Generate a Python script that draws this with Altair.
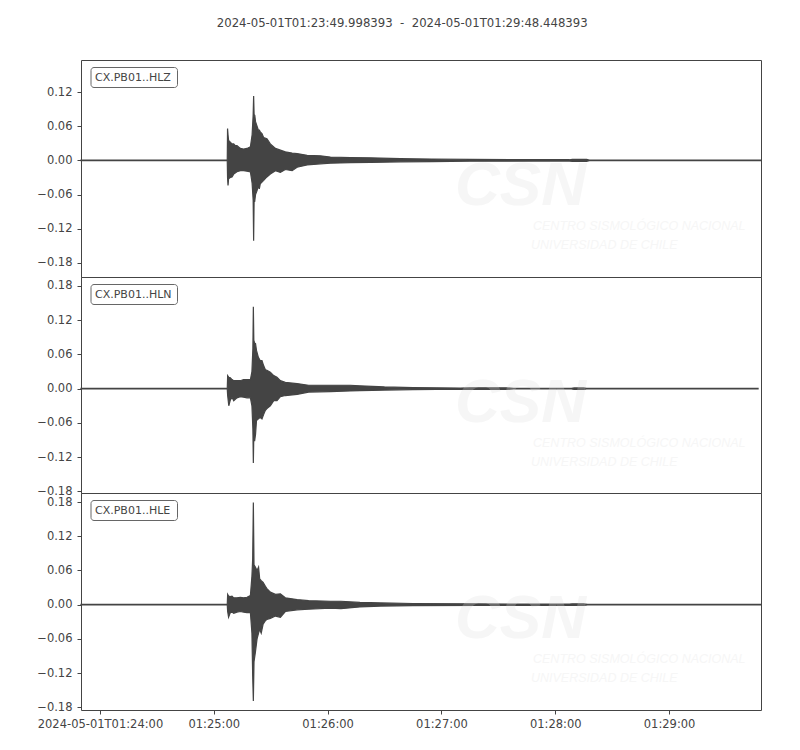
import altair as alt
import pandas as pd

# time axis: seconds relative to 2024-05-01T01:24:00
T_START = -10.0016
T_END = 348.4484
X_TICKS = [0, 60, 120, 180, 240, 300]
TITLE = "2024-05-01T01:23:49.998393\u00a0\u00a0-\u00a0\u00a02024-05-01T01:29:48.448393"

LABELS = ["CX.PB01..HLZ", "CX.PB01..HLN", "CX.PB01..HLE"]

# ---- HLZ envelope (time s, lower, upper) ----
HLZ_T = [T_START, 67.1, 67.25, 67.5, 67.8, 68.7, 69.6, 70.5, 71.3, 72.2, 74.0, 75.7, 77.5, 79.3,
         80.2, 80.75, 81.0, 81.25, 81.6, 82.0, 82.8, 83.5, 84.0, 84.5, 85.4, 86.3, 88.0, 89.8,
         92.5, 95.1, 97.7, 101.3, 103.9, 109.2, 116.2, 121.5, 132.0, 142.6, 158.4, 175.0, 195.0,
         230.0, 247.5, 249.0, 256.5, 258.0, T_END]
HLZ_LO = [-0.0004, -0.0004, -0.030, -0.044, -0.032, -0.030, -0.029, -0.024, -0.022, -0.020, -0.018,
          -0.018, -0.019, -0.020, -0.040, -0.070, -0.141, -0.070, -0.071, -0.060, -0.053, -0.045,
          -0.050, -0.041, -0.038, -0.035, -0.029, -0.024, -0.018, -0.021, -0.016, -0.018, -0.012,
          -0.008, -0.006, -0.005, -0.004, -0.0035, -0.0025, -0.002, -0.0015, -0.0012, -0.0012,
          -0.0016, -0.0016, -0.0004, -0.0004]
HLZ_HI = [0.0004, 0.0004, 0.056, 0.045, 0.035, 0.032, 0.029, 0.029, 0.026, 0.026, 0.021, 0.020,
          0.021, 0.024, 0.045, 0.080, 0.113, 0.080, 0.079, 0.068, 0.060, 0.053, 0.053, 0.050,
          0.047, 0.040, 0.038, 0.029, 0.021, 0.018, 0.015, 0.013, 0.012, 0.009, 0.008, 0.006,
          0.005, 0.0045, 0.003, 0.0025, 0.0018, 0.0012, 0.0012, 0.0018, 0.0018, 0.0004, 0.0004]

# ---- HLN envelope ----
HLN_T = [T_START, 67.1, 67.3, 67.9, 68.7, 69.6, 70.5, 72.2, 74.0, 75.7, 77.5, 79.3, 80.1, 80.6,
         80.85, 81.1, 81.5, 82.0, 82.5, 83.5, 84.5, 85.4, 86.3, 87.2, 88.0, 89.8, 91.6, 93.3,
         95.1, 97.7, 103.9, 110.0, 121.5, 132.0, 137.0, 150.0, 165.0, 190.0, 195.0, 214.0, 218.0,
         248.5, 250.0, 255.0, 256.5, 346.9]
HLN_LO = [-0.0004, -0.0004, -0.012, -0.030, -0.020, -0.015, -0.021, -0.016, -0.014, -0.015,
          -0.016, -0.016, -0.030, -0.070, -0.130, -0.080, -0.092, -0.080, -0.056, -0.053, -0.050,
          -0.053, -0.045, -0.038, -0.035, -0.030, -0.021, -0.021, -0.014, -0.012, -0.010, -0.006,
          -0.005, -0.004, -0.0035, -0.0025, -0.0015, -0.001, -0.0013, -0.0013, -0.0006, -0.0006,
          -0.0013, -0.0013, -0.0006, -0.0006]
HLN_HI = [0.0004, 0.0004, 0.023, 0.020, 0.019, 0.016, 0.014, 0.014, 0.014, 0.016, 0.016, 0.016,
          0.030, 0.070, 0.1436, 0.085, 0.080, 0.079, 0.067, 0.055, 0.049, 0.049, 0.040, 0.033,
          0.032, 0.029, 0.023, 0.020, 0.014, 0.011, 0.009, 0.006, 0.006, 0.006, 0.005, 0.003,
          0.002, 0.0012, 0.0015, 0.0015, 0.0006, 0.0006, 0.0013, 0.0013, 0.0006, 0.0006]

# ---- HLE envelope ----
HLE_T = [T_START, 67.1, 67.3, 67.8, 68.7, 69.6, 70.5, 72.2, 74.0, 75.7, 77.5, 79.3, 80.1, 80.5,
         80.85, 81.2, 81.9, 82.8, 83.6, 84.2, 85.0, 86.0, 87.2, 88.0, 89.8, 92.5, 95.1, 97.7,
         103.9, 110.0, 121.5, 127.0, 137.0, 148.0, 165.0, 200.0, 247.5, 249.0, 255.0, 257.0, T_END]
HLE_LO = [-0.0004, -0.0004, -0.012, -0.022, -0.014, -0.013, -0.015, -0.013, -0.012, -0.013,
          -0.014, -0.014, -0.050, -0.125, -0.169, -0.100, -0.084, -0.060, -0.050, -0.043, -0.050,
          -0.034, -0.028, -0.026, -0.024, -0.020, -0.022, -0.012, -0.009, -0.008, -0.006, -0.007,
          -0.004, -0.0025, -0.0018, -0.0012, -0.001, -0.0014, -0.0014, -0.0004, -0.0004]
HLE_HI = [0.0004, 0.0004, 0.018, 0.015, 0.014, 0.015, 0.012, 0.012, 0.013, 0.012, 0.013, 0.016,
          0.050, 0.081, 0.179, 0.070, 0.066, 0.060, 0.066, 0.045, 0.042, 0.039, 0.032, 0.028,
          0.022, 0.018, 0.019, 0.012, 0.009, 0.007, 0.006, 0.006, 0.004, 0.003, 0.002, 0.0013,
          0.001, 0.0016, 0.0016, 0.0004, 0.0004]

Y_DOMAINS = [[-0.2046, 0.1762], [-0.1828, 0.1957], [-0.1847, 0.1958]]
Y_TICKS = [[-0.18, -0.12, -0.06, 0.0, 0.06, 0.12],
           [-0.18, -0.12, -0.06, 0.0, 0.06, 0.12, 0.18],
           [-0.18, -0.12, -0.06, 0.0, 0.06, 0.12, 0.18]]
HEIGHTS = [217, 216, 217]

INK = "#444444"
FONT = "DejaVu Sans"
FS = 11.5
W = 680


def panel(t, lo, hi, label, ydom, yticks, height, show_x):
    df = pd.DataFrame({"t": t, "lo": lo, "hi": hi})
    xaxis = None
    if show_x:
        xaxis = alt.Axis(values=X_TICKS, title=None, grid=False, domain=False,
                         tickSize=4, tickColor=INK, labelColor=INK, labelFont=FONT,
                         labelFontSize=FS, labelPadding=4, labelFlush=False,
                         labelOverlap=False,
                         labelExpr="datum.value == 0 ? '2024-05-01T01:24:00' : "
                                   "'01:' + (24 + datum.value / 60) + ':00'")
    x = alt.X("t:Q", scale=alt.Scale(domain=[T_START, T_END], nice=False, zero=False),
              axis=xaxis)
    y = alt.Y("lo:Q", scale=alt.Scale(domain=ydom, nice=False, zero=False),
              axis=alt.Axis(values=yticks, format=".2f", title=None, grid=False,
                            domain=False, tickSize=4, tickColor=INK, labelColor=INK,
                            labelFont=FONT, labelFontSize=FS, labelPadding=5,
                            minExtent=72, maxExtent=72, labelOverlap=False,
                            labelFlush=False, labelBound=False))
    wave = alt.Chart(df).mark_area(color=INK, stroke=INK, strokeWidth=1.2,
                                   interpolate="linear").encode(x=x, y=y, y2="hi:Q")

    lab = alt.Data(values=[{"label": label}])
    box = alt.Chart(lab).mark_rect(fill="white", stroke="#666666", strokeWidth=1,
                                   cornerRadius=3).encode(
        x=alt.value(10), x2=alt.value(96.5), y=alt.value(7.5), y2=alt.value(27.5))
    txt = alt.Chart(lab).mark_text(align="left", baseline="middle", font=FONT,
                                   fontSize=11, color=INK).encode(
        x=alt.value(14), y=alt.value(17.8), text="label:N")

    wm = alt.Data(values=[{"a": "CSN", "b": "CENTRO SISMOLÓGICO NACIONAL",
                           "c": "UNIVERSIDAD DE CHILE"}])
    wm_font = "Liberation Sans Narrow, Liberation Sans, sans-serif"
    wm1 = alt.Chart(wm).mark_text(align="left", baseline="alphabetic", font=wm_font,
                                  fontSize=62, fontWeight="bold", fontStyle="italic",
                                  color="#dcdcdc", opacity=0.25, clip=True).encode(
        x=alt.value(374), y=alt.value(145), text="a:N")
    wm2 = alt.Chart(wm).mark_text(align="left", baseline="middle", font=wm_font,
                                  fontSize=12.5, fontStyle="italic",
                                  color="#dcdcdc", opacity=0.25, clip=True).encode(
        x=alt.value(452), y=alt.value(166), text="b:N")
    wm3 = alt.Chart(wm).mark_text(align="left", baseline="middle", font=wm_font,
                                  fontSize=12.5, fontStyle="italic",
                                  color="#dcdcdc", opacity=0.25, clip=True).encode(
        x=alt.value(450), y=alt.value(185), text="c:N")

    return alt.layer(wave, box, txt, wm1, wm2, wm3).properties(width=W, height=height)


panels = []
for i, (t, lo, hi) in enumerate([(HLZ_T, HLZ_LO, HLZ_HI), (HLN_T, HLN_LO, HLN_HI),
                                 (HLE_T, HLE_LO, HLE_HI)]):
    panels.append(panel(t, lo, hi, LABELS[i], Y_DOMAINS[i], Y_TICKS[i], HEIGHTS[i], i == 2))

chart = alt.vconcat(*panels, spacing=0, bounds="flush").resolve_scale(
    y="independent"
).properties(
    title=alt.TitleParams(TITLE, font=FONT, fontSize=11.7, fontWeight="normal", color=INK,
                          anchor="middle", offset=30, dx=16),
    padding={"left": 0, "top": 9, "right": 5, "bottom": 5},
    background="white",
).configure_view(stroke=INK, strokeWidth=1)

chart.save("out.html", embed_options={"renderer": "svg", "actions": False})
